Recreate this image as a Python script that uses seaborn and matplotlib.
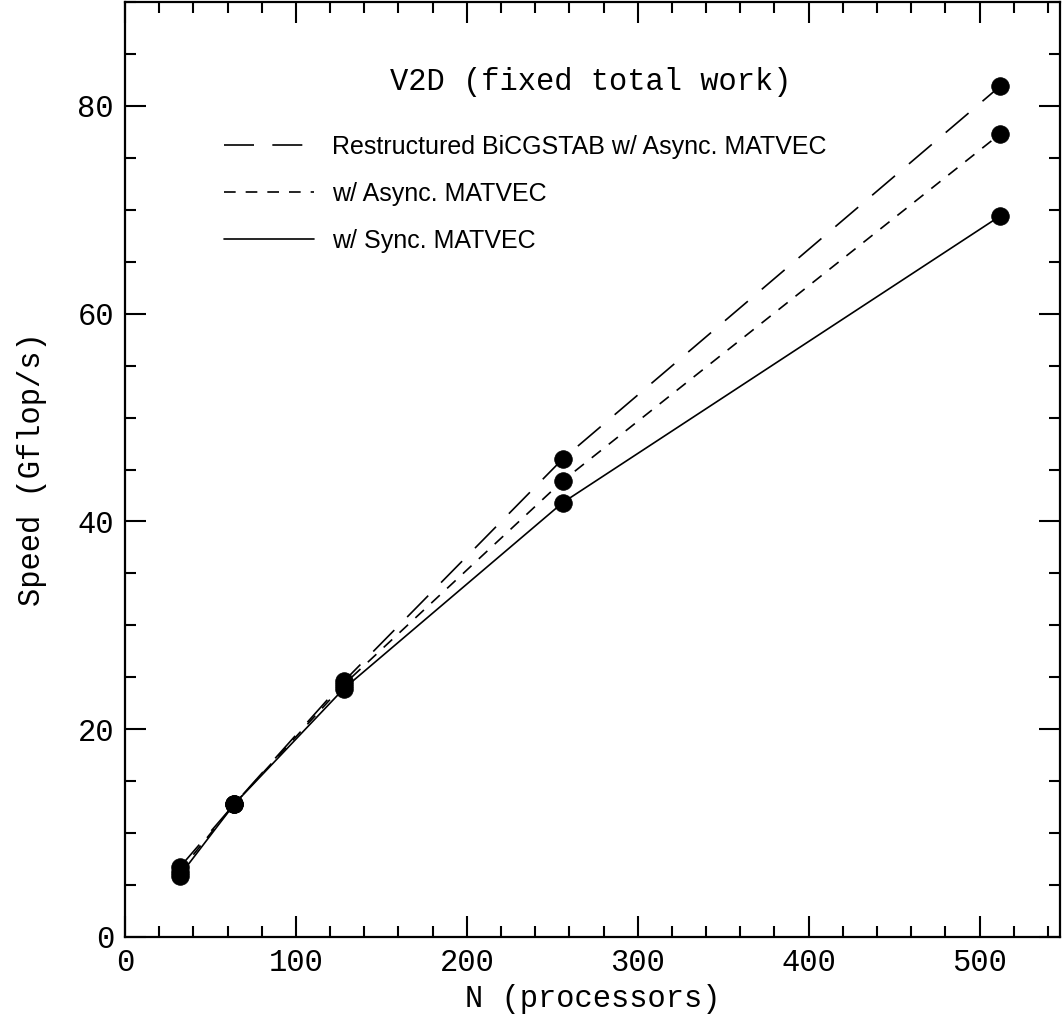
import matplotlib
matplotlib.use("Agg")
import matplotlib.pyplot as plt
import seaborn as sns
import pandas as pd
from matplotlib.ticker import MultipleLocator

## DATA
procs = [32, 64, 128, 256, 512]
speed_restructured = [6.7, 12.8, 24.6, 46.0, 81.9]
speed_async = [6.3, 12.8, 24.3, 43.9, 77.3]
speed_sync = [5.9, 12.8, 23.9, 41.8, 69.4]

labels = ["Restructured BiCGSTAB w/ Async. MATVEC",
          "w/ Async. MATVEC",
          "w/ Sync. MATVEC"]

df = pd.DataFrame({
    "N": procs * 3,
    "speed": speed_restructured + speed_async + speed_sync,
    "run": [labels[0]] * 5 + [labels[1]] * 5 + [labels[2]] * 5,
})

sns.set_style("ticks")
plt.rcParams["text.color"] = "black"
plt.rcParams["axes.labelcolor"] = "black"
plt.rcParams["xtick.color"] = "black"
plt.rcParams["ytick.color"] = "black"
mono = ["Liberation Mono"]

fig = plt.figure(figsize=(10.63, 10.36), dpi=100)
ax = fig.add_axes([0.1176, 0.0956, 0.8795, 0.9024])

# lines
sns.lineplot(data=df, x="N", y="speed", style="run", style_order=labels,
             dashes={labels[0]: (18, 11), labels[1]: (7, 6), labels[2]: ""},
             color="black", linewidth=1.2, ax=ax)
# points
sns.scatterplot(data=df, x="N", y="speed", color="black", s=160,
                edgecolor="black", linewidth=0.6, legend=False, zorder=5, ax=ax)

ax.set_xlim(0, 547)
ax.set_ylim(0, 90)
ax.xaxis.set_major_locator(MultipleLocator(100))
ax.xaxis.set_minor_locator(MultipleLocator(20))
ax.yaxis.set_major_locator(MultipleLocator(20))
ax.yaxis.set_minor_locator(MultipleLocator(5))
ax.tick_params(which="both", direction="in", top=True, right=True, width=1.5, color="black")
ax.tick_params(which="major", length=15, labelsize=22, pad=8)
ax.tick_params(which="minor", length=8)
for lab in ax.get_xticklabels() + ax.get_yticklabels():
    lab.set_fontfamily(mono)
for sp in ax.spines.values():
    sp.set_linewidth(1.6)
    sp.set_color("black")

ax.set_xlabel("N (processors)", fontsize=22, family=mono, labelpad=4)
ax.set_ylabel("Speed (Gflop/s)", fontsize=22, family=mono, labelpad=22)

ax.text(0.498, 0.915, "V2D (fixed total work)", transform=ax.transAxes,
        ha="center", va="center", fontsize=22, family=mono)

leg = ax.legend(loc="upper left", bbox_to_anchor=(0.0815, 0.882), frameon=False,
                prop={"family": "Liberation Sans", "size": 18},
                handlelength=3.6, handletextpad=0.75, labelspacing=0.92)
for h in leg.get_lines():
    h.set_linewidth(1.2)

plt.savefig("out.png", dpi=100)
